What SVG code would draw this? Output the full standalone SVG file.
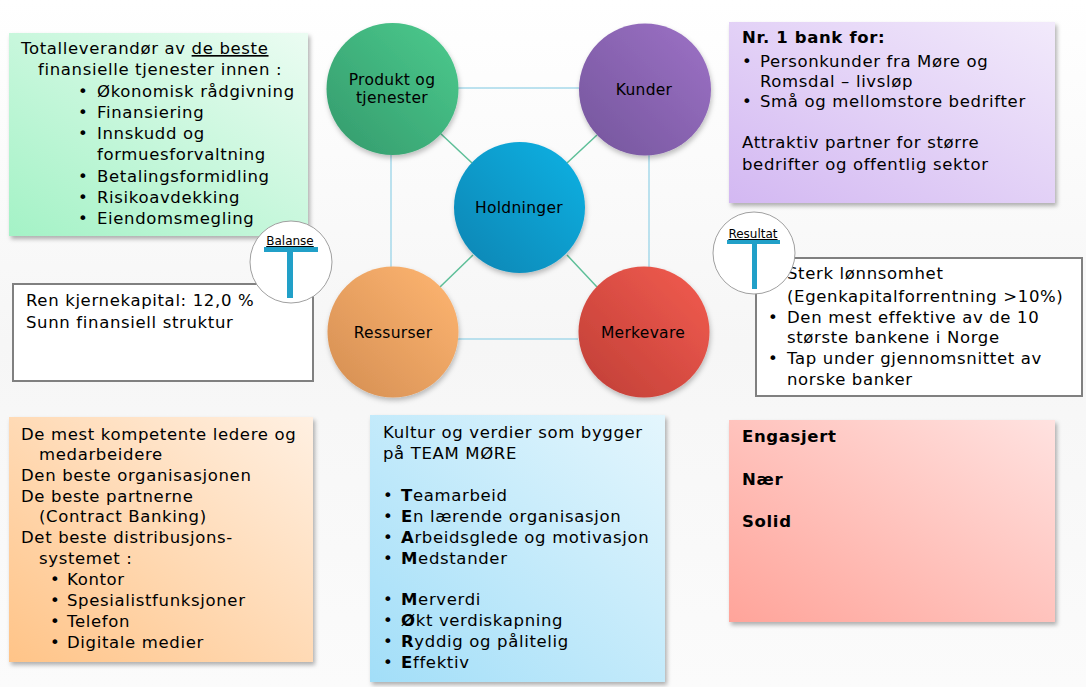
<svg xmlns="http://www.w3.org/2000/svg" width="1086" height="687" viewBox="0 0 1086 687">
<style>
text{font-family:"DejaVu Sans","Liberation Sans",sans-serif;fill:#000}
.t{font-size:16.5px;letter-spacing:0.65px}
.c{font-size:15.5px;letter-spacing:0.3px;text-anchor:middle}
.s{font-size:12px;text-anchor:middle;text-decoration:underline}
.b{font-weight:bold}
.box{stroke:none;filter:url(#sh)}
.obox{fill:#fff;stroke:#808080;stroke-width:2}
.hl{stroke:#a6d8ea;stroke-width:1.5;fill:none}
.dl{stroke:#5dbf98;stroke-width:1.5;fill:none}
.tee{fill:#21a0c8}
.mc{fill:#fff;stroke:#a0a0a0;stroke-width:1}
</style>
<defs>
<filter id="sh" x="-10%" y="-10%" width="125%" height="125%"><feDropShadow dx="2" dy="3" stdDeviation="2" flood-color="#000" flood-opacity="0.3"/></filter>
<filter id="csh" x="-20%" y="-20%" width="140%" height="140%"><feDropShadow dx="1" dy="3" stdDeviation="2.5" flood-color="#000" flood-opacity="0.25"/></filter>
<linearGradient id="gG" x1="0" y1="1" x2="1" y2="0"><stop offset="0" stop-color="#a4f2c6"/><stop offset="1" stop-color="#ebfcf2"/></linearGradient>
<linearGradient id="gP" x1="0" y1="1" x2="1" y2="0"><stop offset="0" stop-color="#d3b8f2"/><stop offset="1" stop-color="#f2eafb"/></linearGradient>
<linearGradient id="gO" x1="0" y1="1" x2="1" y2="0"><stop offset="0" stop-color="#ffc488"/><stop offset="1" stop-color="#fff0e2"/></linearGradient>
<linearGradient id="gB" x1="0" y1="1" x2="1" y2="0"><stop offset="0" stop-color="#a2def8"/><stop offset="1" stop-color="#e4f6fd"/></linearGradient>
<linearGradient id="gR" x1="0" y1="1" x2="1" y2="0"><stop offset="0" stop-color="#ffa49a"/><stop offset="1" stop-color="#ffe2e0"/></linearGradient>
<linearGradient id="cG" x1="0" y1="1" x2="1" y2="0"><stop offset="0" stop-color="#349a6c"/><stop offset="1" stop-color="#4ccb8e"/></linearGradient>
<linearGradient id="cP" x1="0" y1="1" x2="1" y2="0"><stop offset="0" stop-color="#74559c"/><stop offset="1" stop-color="#9d72c6"/></linearGradient>
<linearGradient id="cB" x1="0" y1="1" x2="1" y2="0"><stop offset="0" stop-color="#0884b2"/><stop offset="1" stop-color="#12b2e4"/></linearGradient>
<linearGradient id="cO" x1="0" y1="1" x2="1" y2="0"><stop offset="0" stop-color="#d48e52"/><stop offset="1" stop-color="#ffb672"/></linearGradient>
<linearGradient id="cR" x1="0" y1="1" x2="1" y2="0"><stop offset="0" stop-color="#bf3e36"/><stop offset="1" stop-color="#f35c50"/></linearGradient>
<linearGradient id="bg" x1="0" y1="0" x2="0" y2="1"><stop offset="0" stop-color="#ffffff"/><stop offset="0.5" stop-color="#f6f6f6"/><stop offset="1" stop-color="#fbfbfb"/></linearGradient>
</defs>
<rect width="1086" height="687" fill="url(#bg)"/>

<g id="connectors">
<line class="hl" x1="458" y1="88" x2="579" y2="88"/>
<line class="hl" x1="458" y1="339" x2="578" y2="339"/>
<line class="hl" x1="391" y1="155" x2="391" y2="267"/>
<line class="hl" x1="649" y1="155" x2="649" y2="267"/>
<line class="dl" x1="440" y1="133" x2="472" y2="163"/>
<line class="dl" x1="597" y1="135" x2="567" y2="163"/>
<line class="dl" x1="473" y1="255" x2="440" y2="287"/>
<line class="dl" x1="567" y1="255" x2="597" y2="287"/>
</g>

<g id="produkt">
<circle cx="392.5" cy="89" r="66" fill="url(#cG)" filter="url(#csh)"/>
<text class="c" x="392" y="85">Produkt og</text>
<text class="c" x="392" y="103">tjenester</text>
</g>
<g id="kunder">
<circle cx="645" cy="89.5" r="66" fill="url(#cP)" filter="url(#csh)"/>
<text class="c" x="644" y="95">Kunder</text>
</g>
<g id="holdninger">
<circle cx="519.5" cy="207.5" r="65.5" fill="url(#cB)" filter="url(#csh)"/>
<text class="c" x="519" y="213">Holdninger</text>
</g>
<g id="ressurser">
<circle cx="393" cy="332" r="65.5" fill="url(#cO)" filter="url(#csh)"/>
<text class="c" x="393" y="338">Ressurser</text>
</g>
<g id="merkevare">
<circle cx="644" cy="332" r="65.5" fill="url(#cR)" filter="url(#csh)"/>
<text class="c" x="643" y="338">Merkevare</text>
</g>

<g id="produkt-box">
<rect class="box" x="9" y="33" width="299" height="203" fill="url(#gG)"/>
<text class="t" x="21" y="54">Totalleverandør av <tspan text-decoration="underline">de beste</tspan></text>
<text class="t" x="38" y="75">finansielle tjenester innen :</text>
<text class="t" x="78" y="97">•</text><text class="t" x="97" y="97">Økonomisk rådgivning</text>
<text class="t" x="78" y="118">•</text><text class="t" x="97" y="118">Finansiering</text>
<text class="t" x="78" y="139">•</text><text class="t" x="97" y="139">Innskudd og</text>
<text class="t" x="97" y="160">formuesforvaltning</text>
<text class="t" x="78" y="182">•</text><text class="t" x="97" y="182">Betalingsformidling</text>
<text class="t" x="78" y="203">•</text><text class="t" x="97" y="203">Risikoavdekking</text>
<text class="t" x="78" y="224">•</text><text class="t" x="97" y="224">Eiendomsmegling</text>
</g>

<g id="kunder-box">
<rect class="box" x="729" y="22" width="326" height="181" fill="url(#gP)"/>
<text class="t b" x="742" y="43">Nr. 1 bank for:</text>
<text class="t" x="742" y="67">•</text><text class="t" x="760" y="67">Personkunder fra Møre og</text>
<text class="t" x="760" y="87">Romsdal – livsløp</text>
<text class="t" x="742" y="107">•</text><text class="t" x="760" y="107">Små og mellomstore bedrifter</text>
<text class="t" x="742" y="148">Attraktiv partner for større</text>
<text class="t" x="742" y="170">bedrifter og offentlig sektor</text>
</g>

<g id="balanse-box">
<rect class="obox" x="13" y="284" width="300" height="97"/>
<text class="t" x="26" y="306">Ren kjernekapital: 12,0 %</text>
<text class="t" x="26" y="328">Sunn finansiell struktur</text>
</g>
<g id="balanse">
<circle class="mc" cx="291" cy="262" r="41"/>
<text class="s" x="290" y="245">Balanse</text>
<rect class="tee" x="264" y="247" width="54" height="5"/>
<rect class="tee" x="287" y="252" width="6" height="46"/>
</g>

<g id="resultat-box">
<rect class="obox" x="756" y="258" width="326" height="138"/>
<text class="t" x="787" y="279">Sterk lønnsomhet</text>
<text class="t" x="787" y="302">(Egenkapitalforrentning &gt;10%)</text>
<text class="t" x="768" y="323">•</text><text class="t" x="787" y="323">Den mest effektive av de 10</text>
<text class="t" x="787" y="343">største bankene i Norge</text>
<text class="t" x="768" y="364">•</text><text class="t" x="787" y="364">Tap under gjennomsnittet av</text>
<text class="t" x="787" y="385">norske banker</text>
</g>
<g id="resultat">
<circle class="mc" cx="754" cy="253" r="41"/>
<text class="s" x="753" y="238">Resultat</text>
<rect class="tee" x="727" y="240" width="53" height="4"/>
<rect class="tee" x="752" y="244" width="5" height="45"/>
</g>

<g id="ressurser-box">
<rect class="box" x="9" y="417" width="304" height="245" fill="url(#gO)"/>
<text class="t" x="21" y="440">De mest kompetente ledere og</text>
<text class="t" x="39" y="460">medarbeidere</text>
<text class="t" x="21" y="481">Den beste organisasjonen</text>
<text class="t" x="21" y="502">De beste partnerne</text>
<text class="t" x="39" y="522">(Contract Banking)</text>
<text class="t" x="21" y="543">Det beste distribusjons-</text>
<text class="t" x="39" y="564">systemet :</text>
<text class="t" x="50" y="585">•</text><text class="t" x="67" y="585">Kontor</text>
<text class="t" x="50" y="606">•</text><text class="t" x="67" y="606">Spesialistfunksjoner</text>
<text class="t" x="50" y="627">•</text><text class="t" x="67" y="627">Telefon</text>
<text class="t" x="50" y="648">•</text><text class="t" x="67" y="648">Digitale medier</text>
</g>

<g id="holdninger-box">
<rect class="box" x="370" y="415" width="295" height="267" fill="url(#gB)"/>
<text class="t" x="383" y="438">Kultur og verdier som bygger</text>
<text class="t" x="383" y="459">på TEAM MØRE</text>
<text class="t" x="383" y="501">•</text><text class="t" x="401" y="501"><tspan class="b">T</tspan>eamarbeid</text>
<text class="t" x="383" y="522">•</text><text class="t" x="401" y="522"><tspan class="b">E</tspan>n lærende organisasjon</text>
<text class="t" x="383" y="543">•</text><text class="t" x="401" y="543"><tspan class="b">A</tspan>rbeidsglede og motivasjon</text>
<text class="t" x="383" y="564">•</text><text class="t" x="401" y="564"><tspan class="b">M</tspan>edstander</text>
<text class="t" x="383" y="605">•</text><text class="t" x="401" y="605"><tspan class="b">M</tspan>erverdi</text>
<text class="t" x="383" y="626">•</text><text class="t" x="401" y="626"><tspan class="b">Ø</tspan>kt verdiskapning</text>
<text class="t" x="383" y="647">•</text><text class="t" x="401" y="647"><tspan class="b">R</tspan>yddig og pålitelig</text>
<text class="t" x="383" y="668">•</text><text class="t" x="401" y="668"><tspan class="b">E</tspan>ffektiv</text>
</g>

<g id="merkevare-box">
<rect class="box" x="729" y="420" width="326" height="202" fill="url(#gR)"/>
<text class="t b" x="742" y="442">Engasjert</text>
<text class="t b" x="742" y="485">Nær</text>
<text class="t b" x="742" y="527">Solid</text>
</g>
</svg>
